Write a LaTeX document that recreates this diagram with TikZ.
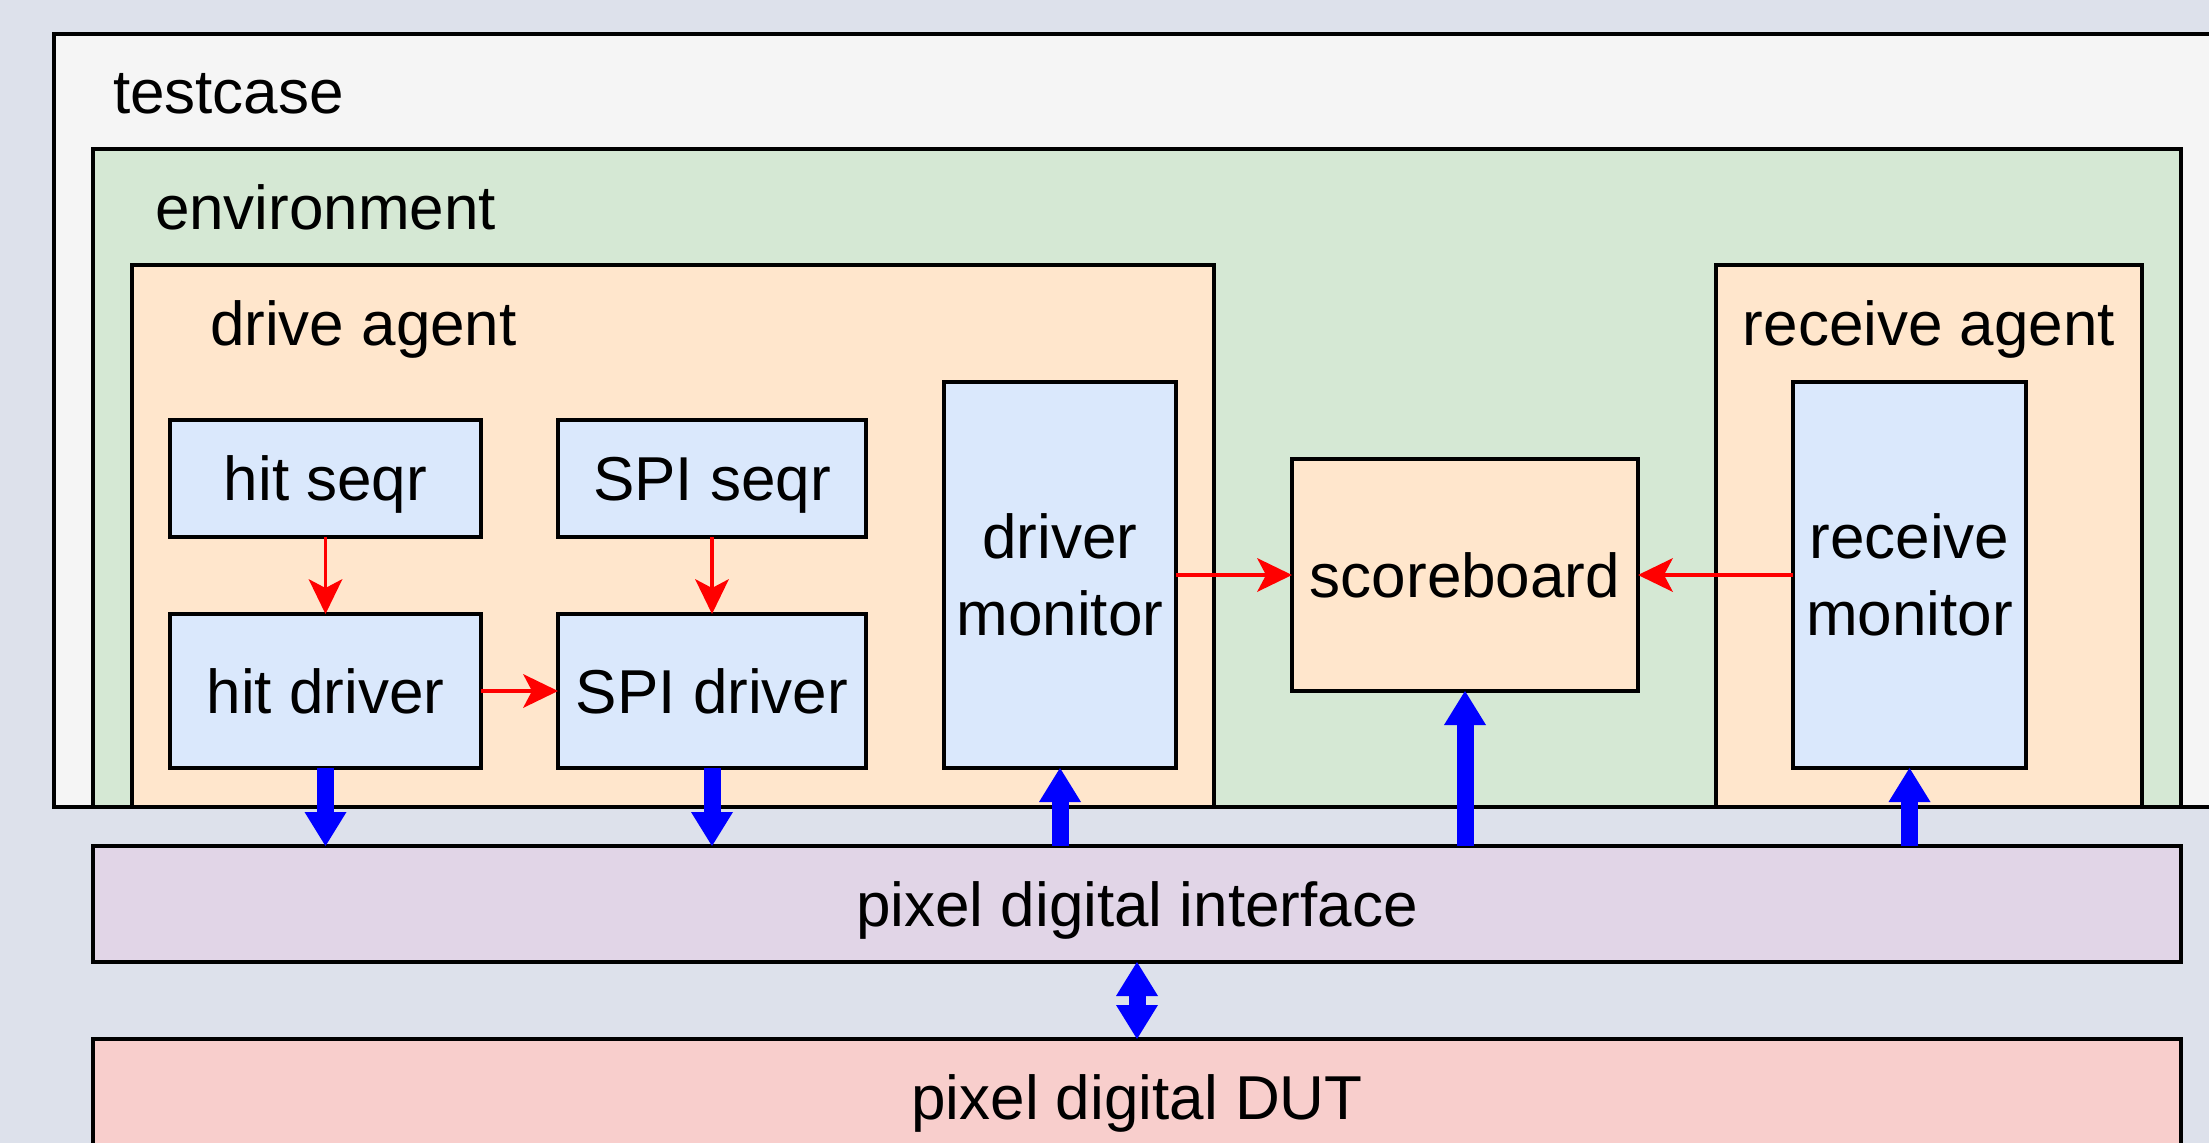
\documentclass[tikz,border=0pt]{standalone}
\usepackage{fontspec}
\setmainfont{Liberation Sans}
\usetikzlibrary{arrows.meta}
\definecolor{bgc}{HTML}{DDE1EB}
\definecolor{tcfill}{HTML}{F5F5F5}
\definecolor{envfill}{HTML}{D5E8D4}
\definecolor{agentfill}{HTML}{FFE6CC}
\definecolor{compfill}{HTML}{DAE8FC}
\definecolor{iffill}{HTML}{E1D5E7}
\definecolor{dutfill}{HTML}{F8CECC}
\begin{document}
\begin{tikzpicture}[x=1pt,y=-1pt,
  every node/.style={font=\fontsize{62}{77}\selectfont, inner sep=0pt, outer sep=0pt},
  box/.style={draw=black, line width=3.6pt, rectangle},
  oneline/.style={text height=56pt, text depth=12pt},
  twoline/.style={align=center},
  lbl/.style={anchor=base west},
  redarrow/.style={draw=red, line width=3.4pt, -{Stealth[length=35pt,width=34pt,inset=9pt,line width=0pt]}},
  bluearrow/.style={draw=blue, line width=17pt, -{Triangle[length=34pt,width=42pt,line width=0pt]}},
  bluedouble/.style={draw=blue, line width=17pt, {Triangle[length=34pt,width=42pt,line width=0pt]}-{Triangle[length=34pt,width=42pt,line width=0pt]}}]
\clip (0,0) rectangle (2209,1143);
\fill[bgc] (0,0) rectangle (2209,1143);
% containers
\node[box, fill=tcfill, minimum width=2186pt, minimum height=773pt] (testcase) at (1147,420.5) {};
\node[lbl] (testcaselbl) at (113,113) {testcase};
\node[box, fill=envfill, minimum width=2088pt, minimum height=658pt] (env) at (1137,478) {};
\node[lbl] (envlbl) at (155,229) {environment};
\node[box, fill=agentfill, minimum width=1082pt, minimum height=542pt] (drive) at (673,536) {};
\node[lbl] (drivelbl) at (210,345) {drive agent};
\node[box, fill=agentfill, minimum width=426pt, minimum height=542pt] (recv) at (1929,536) {};
\node[anchor=base] (recvlbl) at (1929,345) {receive agent};
% components
\node[box, oneline, fill=compfill, minimum width=311pt, minimum height=117pt] (hitseqr) at (325.5,478.5) {hit seqr};
\node[box, oneline, fill=compfill, minimum width=308pt, minimum height=117pt] (spiseqr) at (712,478.5) {SPI seqr};
\node[box, oneline, fill=compfill, minimum width=311pt, minimum height=154pt] (hitdrv) at (325.5,691) {hit driver};
\node[box, oneline, fill=compfill, minimum width=308pt, minimum height=154pt] (spidrv) at (712,691) {SPI driver};
\node[box, twoline, fill=compfill, minimum width=232pt, minimum height=386pt] (drvmon) at (1060,575) {driver\\monitor};
\node[box, oneline, fill=agentfill, minimum width=346pt, minimum height=232pt] (score) at (1465,575) {scoreboard};
\node[box, twoline, fill=compfill, minimum width=233pt, minimum height=386pt] (rcvmon) at (1909.5,575) {receive\\monitor};
\node[box, oneline, fill=iffill, minimum width=2088pt, minimum height=116pt] (iface) at (1137,904) {pixel digital interface};
\node[box, oneline, fill=dutfill, minimum width=2088pt, minimum height=116pt] (dut) at (1137,1097) {pixel digital DUT};
% red connectors
\draw[redarrow] (hitseqr.south) -- (hitdrv.north);
\draw[redarrow] (spiseqr.south) -- (spidrv.north);
\draw[redarrow] (hitdrv.east) -- (spidrv.west);
\draw[redarrow] (drvmon.east) -- (score.west);
\draw[redarrow] (rcvmon.west) -- (score.east);
% blue connectors
\draw[bluearrow] (hitdrv.south) -- (hitdrv.south |- iface.north);
\draw[bluearrow] (spidrv.south) -- (spidrv.south |- iface.north);
\draw[bluearrow] (iface.north -| drvmon.south) -- (drvmon.south);
\draw[bluearrow] (iface.north -| score.south) -- (score.south);
\draw[bluearrow] (iface.north -| rcvmon.south) -- (rcvmon.south);
\draw[bluedouble] (iface.south) -- (dut.north);
\end{tikzpicture}
\end{document}
